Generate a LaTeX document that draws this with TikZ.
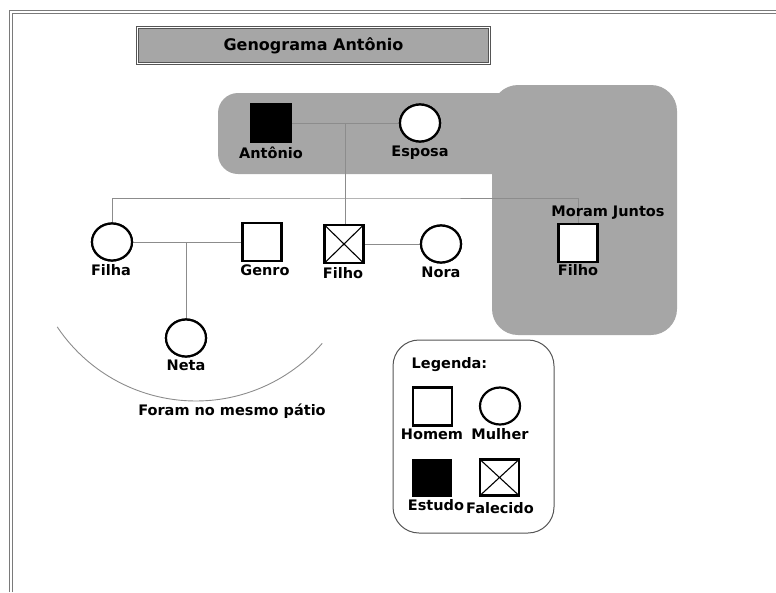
\documentclass[tikz,border=0pt]{standalone}
\usepackage{fontspec}
\setmainfont{DejaVu Sans}
\usetikzlibrary{shapes.geometric}
\definecolor{regiongray}{HTML}{A6A6A6}
\definecolor{linegray}{HTML}{8C8C8C}
\definecolor{framegray}{HTML}{7A7A7A}
\definecolor{boxgray}{HTML}{555555}
\begin{document}
\begin{tikzpicture}[x=1pt,y=-1pt,
 lbl/.style={font=\fontsize{14.5}{16}\selectfont\bfseries, inner sep=0pt, anchor=base},
 male/.style={draw=black, line width=2.2pt, fill=white, rectangle, minimum width=39pt, minimum height=38pt, inner sep=0pt},
 female/.style={draw=black, line width=2.2pt, fill=white, ellipse, minimum width=40pt, minimum height=37pt, inner sep=0pt},
 study/.style={male, fill=black},
 deceased/.style={male, path picture={\draw[line width=1.1pt] (path picture bounding box.north west) -- (path picture bounding box.south east) (path picture bounding box.north east) -- (path picture bounding box.south west);}},
 conn/.style={draw=linegray, line width=0.9pt},
]
\useasboundingbox (0,0) rectangle (776,592);
% frame
\draw[framegray, line width=1pt] (9,592) -- (9,10) -- (776,10);
\draw[framegray, line width=1pt] (12,592) -- (12,13) -- (776,13);
% title
\node[draw=boxgray, double, double distance=1.6pt, fill=regiongray, minimum width=352pt, minimum height=36pt, inner sep=0pt, font=\fontsize{16}{18}\selectfont\bfseries] (title) at (313.5,45.5) {Genograma Antônio};
% grey region
\fill[regiongray, rounded corners=20pt] (218,93) rectangle (540,174);
\fill[regiongray, rounded corners=26pt] (492,85) rectangle (677,335);
% legend box
\draw[boxgray, line width=1pt, fill=white, rounded corners=26pt] (393,340) rectangle (554,533);
% nodes
\node[study] (antonio) at (271,123) {};
\node[female] (esposa) at (420,123) {};
\node[female] (filha) at (112,242) {};
\node[male] (genro) at (262,242) {};
\node[deceased] (filhoX) at (344,244) {};
\node[female] (nora) at (441,244) {};
\node[male] (filho2) at (578,243) {};
\node[female] (neta) at (186,338) {};
% connectors
\coordinate (m1) at (345,123);
\coordinate (sib) at (345,198);
\coordinate (m2) at (186,242);
\draw[conn] (antonio.east) -- (esposa.west);
\draw[conn] (m1) -- (m1 |- filhoX.north);
\draw[conn] (filha.north) |- (sib) -| (filho2.north);
\draw[conn] (filha.east) -- (genro.west);
\draw[conn] (m2) -- (neta.north);
\draw[conn] (filhoX.east) -- (nora.west);
\draw[conn] (196,234) ++(146.2:167) coordinate (arcS) arc[start angle=146.2, end angle=40.9, radius=167];
% redraw nodes on top of connectors
\node[study] at (antonio) {};
\node[female] at (esposa) {};
\node[female] at (filha) {};
\node[male] at (genro) {};
\node[deceased] at (filhoX) {};
\node[female] at (nora) {};
\node[male] at (filho2) {};
\node[female] at (neta) {};
% labels
\node[lbl] (lAntonio) at (271,158) {Antônio};
\node[lbl] (lEsposa) at (420,156) {Esposa};
\node[lbl] (lFilha) at (111,275) {Filha};
\node[lbl] (lGenro) at (265,275) {Genro};
\node[lbl] (lFilho) at (343,278) {Filho};
\node[lbl] (lNora) at (441,277) {Nora};
\node[lbl] (lFilho2) at (578,275) {Filho};
\node[lbl] (lMoram) at (608,216) {Moram Juntos};
\node[lbl] (lNeta) at (186,370) {Neta};
\node[lbl] (lForam) at (232,415) {Foram no mesmo pátio};
% legend
\node[lbl] (lLegenda) at (449.5,368) {Legenda:};
\node[male] (homem) at (432.5,406.5) {};
\node[female] (mulher) at (500,406) {};
\node[study, minimum width=38pt, minimum height=35pt] (estudo) at (432,478) {};
\node[deceased, minimum width=39pt, minimum height=36pt] (falecido) at (499.5,477.5) {};
\node[lbl] (lHomem) at (432,439) {Homem};
\node[lbl] (lMulher) at (500,439) {Mulher};
\node[lbl] (lEstudo) at (436,510) {Estudo};
\node[lbl] (lFalecido) at (500,513) {Falecido};
\end{tikzpicture}
\end{document}
